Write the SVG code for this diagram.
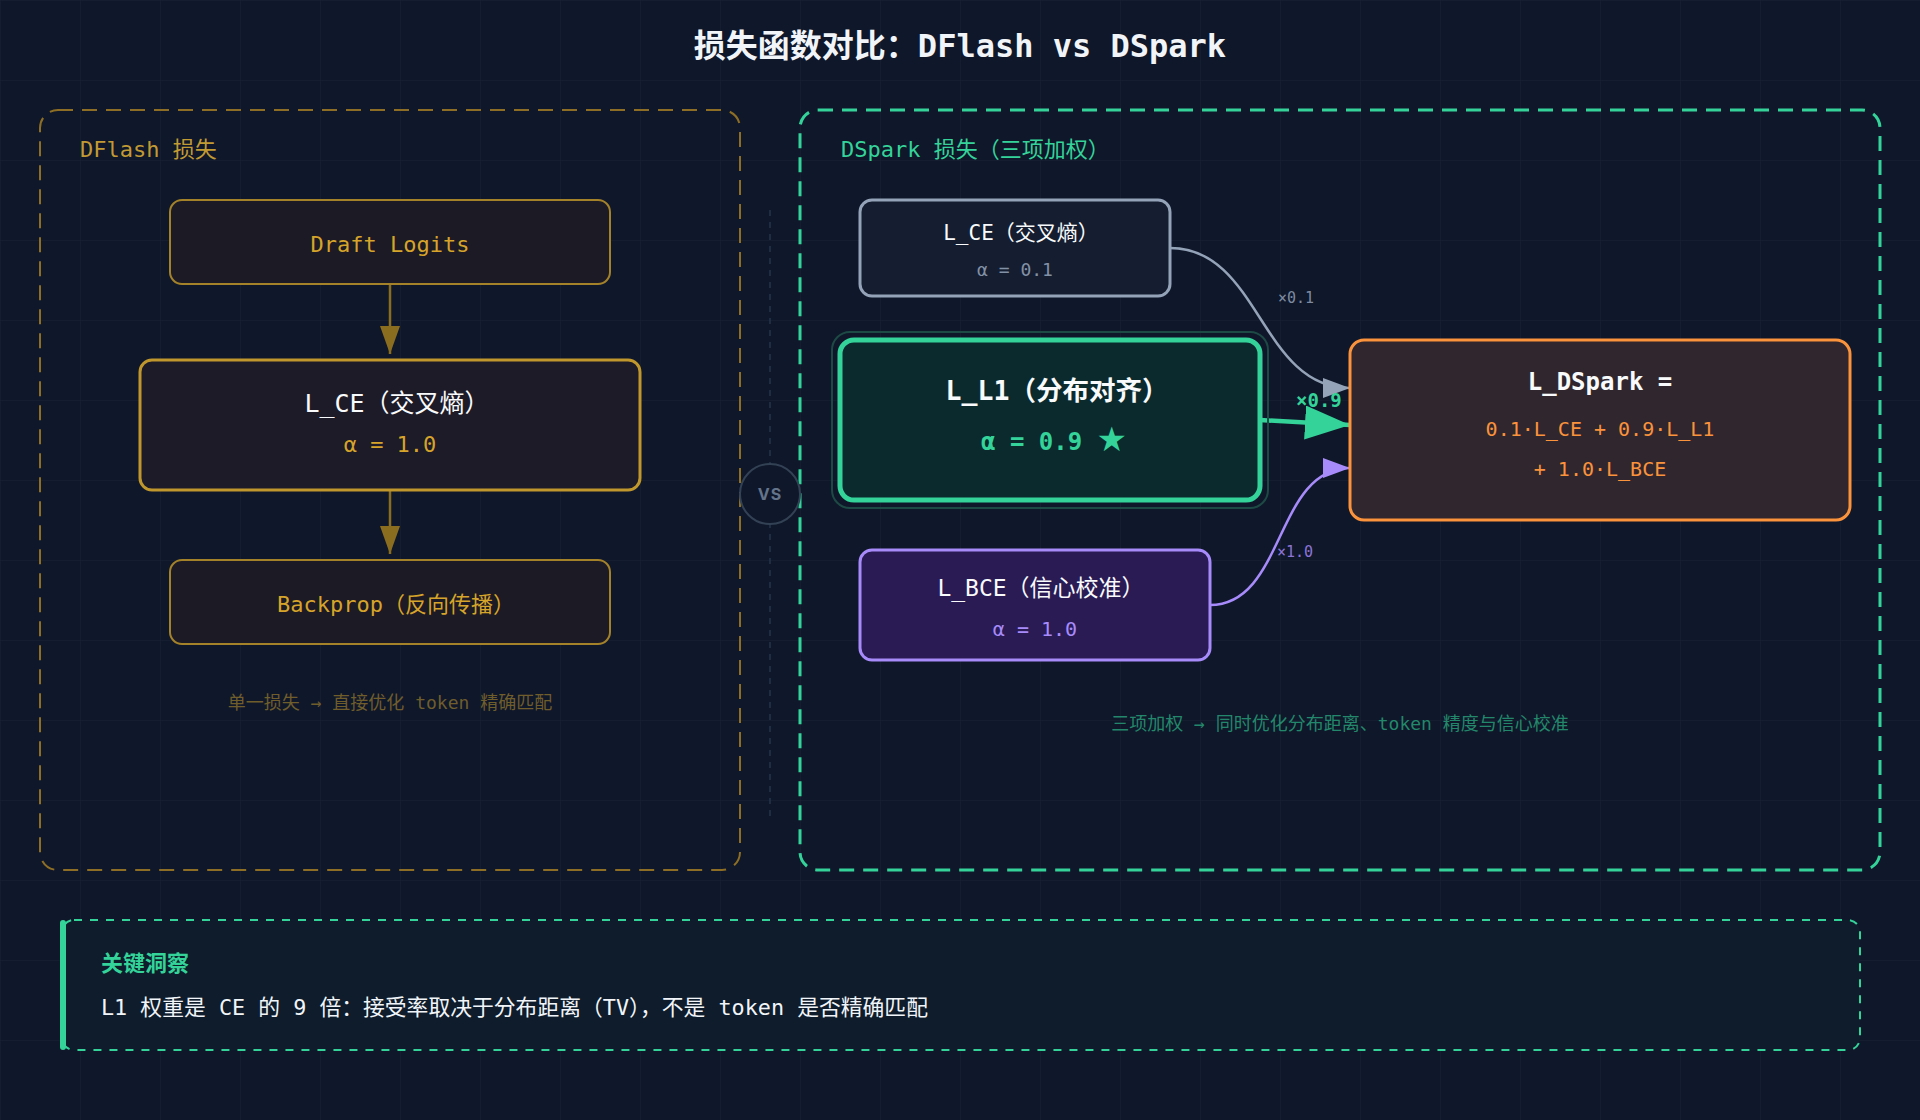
<svg xmlns="http://www.w3.org/2000/svg" width="1920" height="1120" viewBox="0 0 1920 1120">
<defs>
<pattern id="grid" width="80" height="80" patternUnits="userSpaceOnUse">
<path d="M80 0 L0 0 L0 80" fill="none" stroke="#1e293b" stroke-width="1"/>
</pattern>
<marker id="hGold" markerUnits="userSpaceOnUse" markerWidth="30" markerHeight="24" refX="28" refY="10" orient="auto">
<path d="M0 0 L28 10 L0 20 Z" fill="#8b6d1f"/>
</marker>
<marker id="hGray" markerUnits="userSpaceOnUse" markerWidth="30" markerHeight="24" refX="27" refY="10" orient="auto">
<path d="M0 0 L27 10 L0 20 Z" fill="#94a3b8"/>
</marker>
<marker id="hGreen" markerUnits="userSpaceOnUse" markerWidth="48" markerHeight="36" refX="45" refY="17" orient="auto">
<path d="M0 0 L45 17 L0 34 Z" fill="#34d399"/>
</marker>
<marker id="hPurple" markerUnits="userSpaceOnUse" markerWidth="30" markerHeight="24" refX="27" refY="10" orient="auto">
<path d="M0 0 L27 10 L0 20 Z" fill="#a78bfa"/>
</marker>
<style>
text{font-family:"DejaVu Sans Mono","Noto Sans CJK SC",monospace;}
.c{text-anchor:middle;}
.title{font-size:32px;font-weight:bold;fill:#f1f5f9;}
.panelGold{fill:none;stroke:#8d6e24;stroke-width:2;stroke-dasharray:15 9;}
.panelGreen{fill:none;stroke:#34d399;stroke-width:3;stroke-dasharray:15 9;}
.goldBox{fill:#1c1a24;stroke:#a3822a;stroke-width:2;}
.goldTxt{font-size:22px;fill:#d6a42a;}
.white{fill:#f8fafc;}
.cap{font-size:18px;}
</style>
</defs>
<rect width="1920" height="1120" fill="#0f172a"/>
<rect width="1920" height="1120" fill="url(#grid)" opacity="0.75"/>

<text class="title c" x="960" y="57">损失函数对比：DFlash vs DSpark</text>

<!-- Left panel -->
<g id="panel-dflash">
<rect class="panelGold" x="40" y="110" width="700" height="760" rx="18"/>
<text x="80" y="157" font-size="22" fill="#c29a33">DFlash 损失</text>
</g>

<!-- Right panel -->
<g id="panel-dspark">
<rect class="panelGreen" x="800" y="110" width="1080" height="760" rx="18"/>
<text x="841" y="157" font-size="22" fill="#34d399">DSpark 损失（三项加权）</text>
</g>

<!-- VS divider -->
<g id="vs">
<line x1="770" y1="210" x2="770" y2="820" stroke="#273449" stroke-width="1.5" stroke-dasharray="6 6"/>
<circle cx="770" cy="494" r="30" fill="#0f172a" stroke="#334155" stroke-width="2"/>
<text x="770" y="500" class="c" style="font-family:Inter,sans-serif" font-size="16" font-weight="bold" fill="#64748b" letter-spacing="1">VS</text>
</g>

<!-- Connectors -->
<g id="connectors" fill="none">
<line x1="390" y1="284" x2="390" y2="354" stroke="#8b6d1f" stroke-width="2.5" marker-end="url(#hGold)"/>
<line x1="390" y1="490" x2="390" y2="554" stroke="#8b6d1f" stroke-width="2.5" marker-end="url(#hGold)"/>
<path d="M1170 248 C1260 248 1260 388 1350 388" stroke="#94a3b8" stroke-width="2.5" marker-end="url(#hGray)"/>
<path d="M1260 420 L1350 425" stroke="#34d399" stroke-width="4.5" marker-end="url(#hGreen)"/>
<path d="M1210 605 C1285 605 1275 468 1350 468" stroke="#a78bfa" stroke-width="2.5" marker-end="url(#hPurple)"/>
<text x="1278" y="303" font-size="15" fill="#7d8aa0">×0.1</text>
<text x="1296" y="407" font-size="19" font-weight="bold" fill="#34d399">×0.9</text>
<text x="1277" y="557" font-size="15" fill="#8b74d6">×1.0</text>
</g>

<!-- Left nodes -->
<g id="node-draft-logits">
<rect class="goldBox" x="170" y="200" width="440" height="84" rx="12"/>
<text class="goldTxt c" x="390" y="252">Draft Logits</text>
</g>
<g id="node-lce-left">
<rect x="140" y="360" width="500" height="130" rx="12" fill="#1e1b28" stroke="#c0972c" stroke-width="3"/>
<text class="white c" x="397" y="412" font-size="25">L_CE（交叉熵）</text>
<text class="goldTxt c" x="390" y="452">α = 1.0</text>
</g>
<g id="node-backprop">
<rect class="goldBox" x="170" y="560" width="440" height="84" rx="12"/>
<text class="goldTxt c" x="396" y="612" font-size="22.5">Backprop（反向传播）</text>
</g>
<text class="c cap" x="390" y="709" fill="#6f5d2c">单一损失 → 直接优化 token 精确匹配</text>

<!-- Right nodes -->
<g id="node-lce-right">
<rect x="860" y="200" width="310" height="96" rx="12" fill="#151e30" stroke="#94a3b8" stroke-width="3"/>
<text class="white c" x="1021" y="240" font-size="21">L_CE（交叉熵）</text>
<text class="c" x="1015" y="276" font-size="18" fill="#8391a7">α = 0.1</text>
</g>
<g id="node-ll1">
<rect x="832" y="332" width="436" height="176" rx="18" fill="none" stroke="#1d4a45" stroke-width="2"/>
<rect x="840" y="340" width="420" height="160" rx="14" fill="#0b2a2e" stroke="#34d399" stroke-width="5"/>
<text class="white c" x="1057" y="400" font-size="26.5" font-weight="bold">L_L1（分布对齐）</text>
<text x="981" y="450" font-size="24" font-weight="bold" fill="#34d399">α = 0.9 <tspan style="font-family:'DejaVu Sans',sans-serif" font-size="34" dy="1">★</tspan></text>
</g>
<g id="node-lbce">
<rect x="860" y="550" width="350" height="110" rx="12" fill="#2a1b55" stroke="#a78bfa" stroke-width="3"/>
<text class="white c" x="1041" y="596" font-size="23">L_BCE（信心校准）</text>
<text class="c" x="1035" y="636" font-size="20" fill="#a78bfa">α = 1.0</text>
</g>
<g id="node-ldspark">
<rect x="1350" y="340" width="500" height="180" rx="14" fill="#2f272d" stroke="#fb923c" stroke-width="3"/>
<text class="white c" x="1600" y="390" font-size="24" font-weight="bold">L_DSpark =</text>
<text class="c" x="1600" y="436" font-size="20" fill="#fb923c">0.1·L_CE + 0.9·L_L1</text>
<text class="c" x="1600" y="476" font-size="20" fill="#fb923c">+ 1.0·L_BCE</text>
</g>
<text class="c cap" x="1340" y="730" fill="#23886b">三项加权 → 同时优化分布距离、token 精度与信心校准</text>

<!-- Insight -->
<g id="insight">
<rect x="62" y="920" width="1798" height="130" rx="12" fill="#0e1c2b" stroke="#34d399" stroke-width="2" stroke-dasharray="8 8"/>
<rect x="60" y="920" width="6" height="130" rx="3" fill="#34d399"/>
<text x="101" y="971" font-size="22" font-weight="bold" fill="#34d399">关键洞察</text>
<text x="101" y="1015" font-size="21.8" fill="#f1f5f9">L1 权重是 CE 的 9 倍：接受率取决于分布距离（TV），不是 token 是否精确匹配</text>
</g>
</svg>
